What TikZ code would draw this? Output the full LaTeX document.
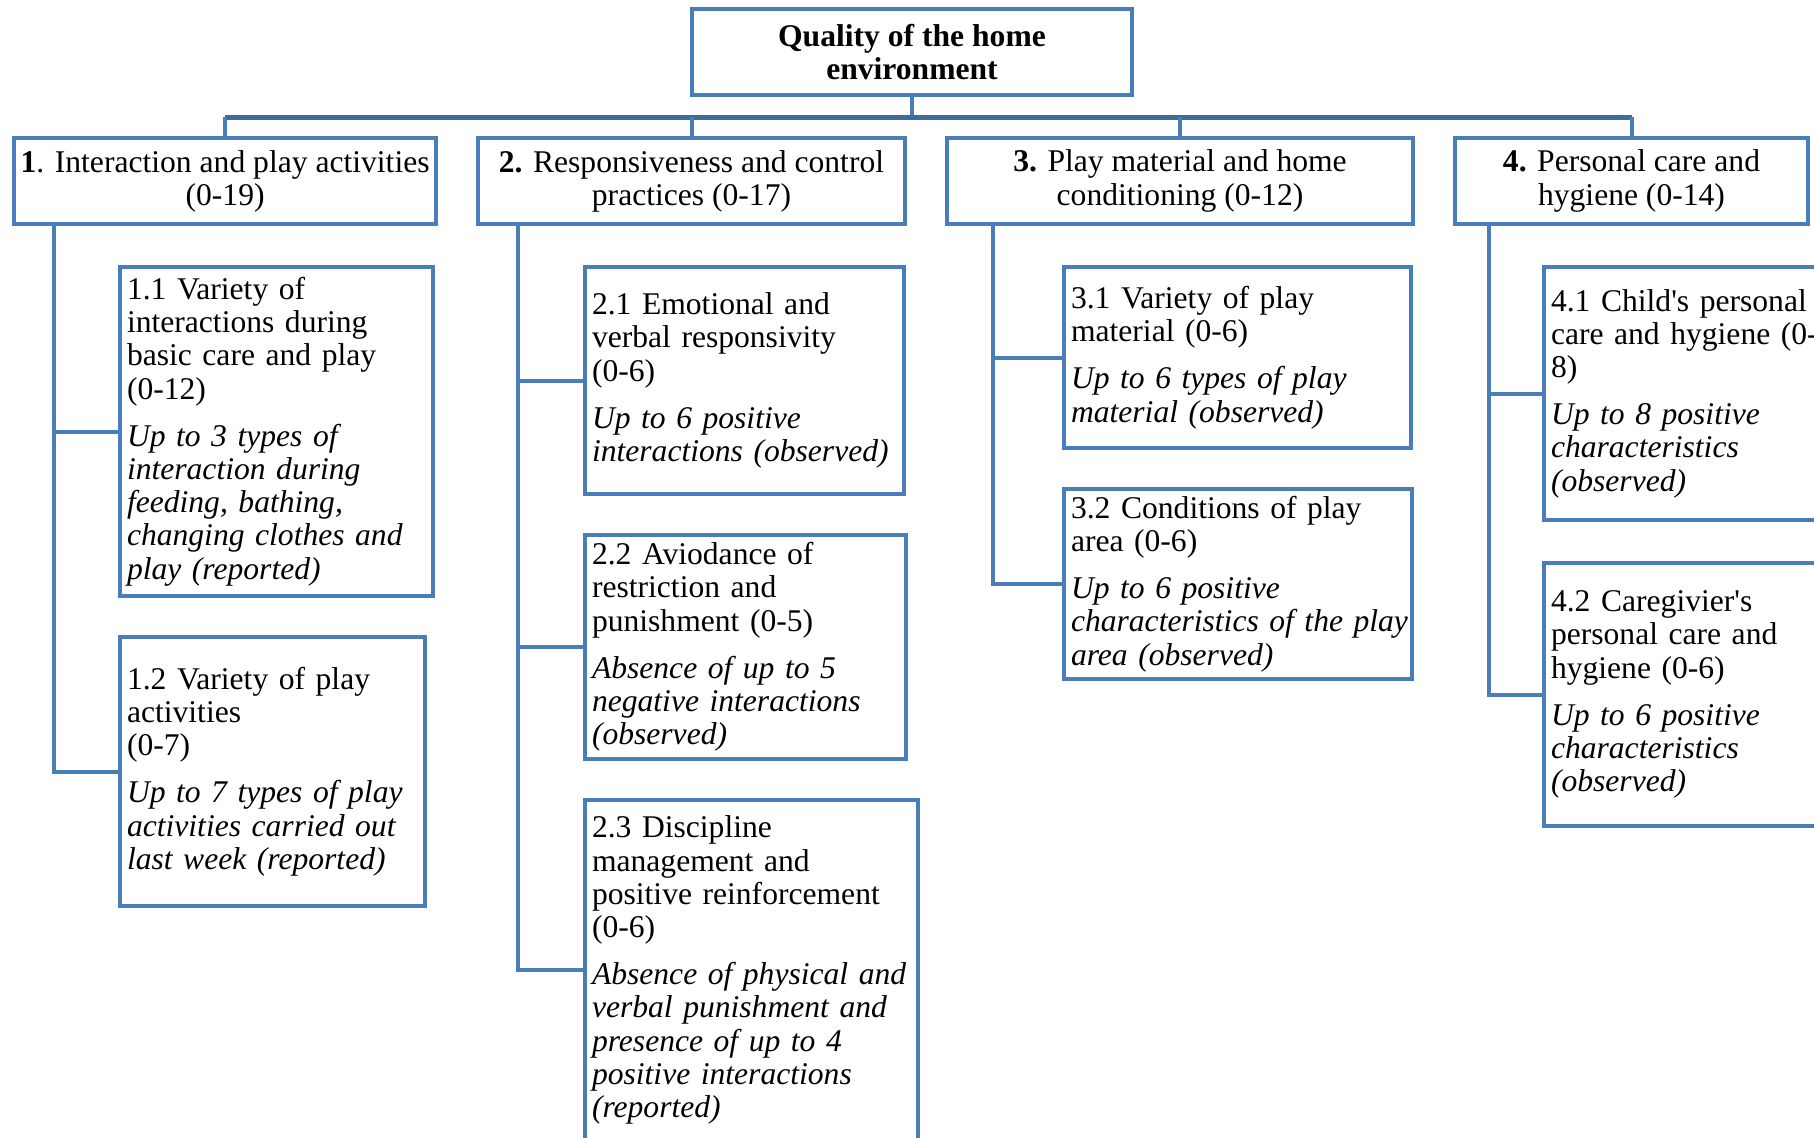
\documentclass[tikz,border=0pt]{standalone}
\usepackage{fontspec}
\setmainfont{Liberation Serif}
\usepackage{tikz}

\definecolor{boxblue}{HTML}{4A7EBB}
\definecolor{busblue}{HTML}{3E6A9C}

\newcommand{\obsnote}[1]{\par\vspace{7pt}{\itshape #1}}

\begin{document}
\begin{tikzpicture}[x=0.5pt, y=-0.5pt, font=\fontsize{15.8}{16.6}\selectfont,
  rootbox/.style = {draw=boxblue, line width=2pt, align=center, font=\fontsize{15.8}{16.6}\selectfont\bfseries},
  dimbox/.style = {draw=boxblue, line width=2pt, align=center, anchor=north west, minimum height=43pt},
  subbox/.style = {draw=boxblue, line width=2pt, align=left, anchor=north west, inner xsep=3.5pt},
  link/.style = {draw=boxblue, line width=2pt},
  bus/.style = {draw=busblue, line width=2.5pt}]
\useasboundingbox (0,0) rectangle (1814,1137);
\clip (0,0) rectangle (1814,1137);

% top of the tree
\node[rootbox, minimum width=220pt, minimum height=43pt] (root) at (912,52) {Quality of the home\\environment};

% the four domains
\node[dimbox, minimum width=210.5pt] (d1) at (12,136) {\textbf{1}. Interaction and play activities\\(0-19)};
\node[dimbox, minimum width=213.5pt] (d2) at (476,136) {\textbf{2.} Responsiveness and control\\practices (0-17)};
\node[dimbox, minimum width=233pt] (d3) at (945,136) {\textbf{3.} Play material and home\\conditioning (0-12)};
\node[dimbox, minimum width=176.5pt] (d4) at (1453,136) {\textbf{4.} Personal care and\\hygiene (0-14)};

% subscales
\node[subbox, text width=149.5pt, minimum height=164.5pt] (s11) at (118,265) {1.1 Variety of\\interactions during\\basic care and play\\(0-12)\obsnote{Up to 3 types of\\interaction during\\feeding, bathing,\\changing clothes and\\play (reported)}};
\node[subbox, text width=145.5pt, minimum height=134.5pt] (s12) at (118,635) {1.2 Variety of play\\activities\\(0-7)\obsnote{Up to 7 types of play\\activities carried out\\last week (reported)}};

\node[subbox, text width=152.5pt, minimum height=113.5pt] (s21) at (583,265) {2.1 Emotional and\\verbal responsivity\\(0-6)\obsnote{Up to 6 positive\\interactions (observed)}};
\node[subbox, text width=153.5pt, minimum height=112pt] (s22) at (583,533) {2.2 Aviodance of\\restriction and\\punishment (0-5)\obsnote{Absence of up to 5\\negative interactions\\(observed)}};
\node[subbox, text width=159.5pt, minimum height=170pt] (s23) at (583,798) {2.3 Discipline\\management and\\positive reinforcement\\(0-6)\obsnote{Absence of physical and\\verbal punishment and\\presence of up to 4\\positive interactions\\(reported)}};

\node[subbox, text width=166.5pt, minimum height=90.5pt] (s31) at (1062,265) {3.1 Variety of play\\material (0-6)\obsnote{Up to 6 types of play\\material (observed)}};
\node[subbox, text width=167pt, minimum height=95pt] (s32) at (1062,487) {3.2 Conditions of play\\area (0-6)\obsnote{Up to 6 positive\\\mbox{characteristics of the play}\\area (observed)}};

\node[subbox, text width=150pt, minimum height=126.5pt] (s41) at (1542,265) {4.1 Child\textquotesingle s personal\\care and hygiene (0-\\8)\obsnote{Up to 8 positive\\characteristics\\(observed)}};
\node[subbox, text width=150pt, minimum height=131.5pt] (s42) at (1542,561) {4.2 Caregivier\textquotesingle s\\personal care and\\hygiene (0-6)\obsnote{Up to 6 positive\\characteristics\\(observed)}};

% connectors
\coordinate (busline) at (0,117);
\draw[link] (root.south) -- (root.south |- busline);
\draw[bus] (d1.north |- busline) -- (d4.north |- busline);
\foreach \d in {d1,d2,d3,d4}
  \draw[link] (\d.north |- busline) -- (\d.north);

\draw[link] ([xshift=21pt]d1.south west) |- (s12.west);
\draw[link] ([xshift=21pt]d1.south west) |- (s11.west);
\draw[link] ([xshift=21pt]d2.south west) |- (s23.west);
\draw[link] ([xshift=21pt]d2.south west) |- (s22.west);
\draw[link] ([xshift=21pt]d2.south west) |- (s21.west);
\draw[link] ([xshift=24pt]d3.south west) |- (s32.west);
\draw[link] ([xshift=24pt]d3.south west) |- (s31.west);
\draw[link] ([xshift=18pt]d4.south west) |- (s42.west);
\draw[link] ([xshift=18pt]d4.south west) |- (s41.west);
\end{tikzpicture}
\end{document}
